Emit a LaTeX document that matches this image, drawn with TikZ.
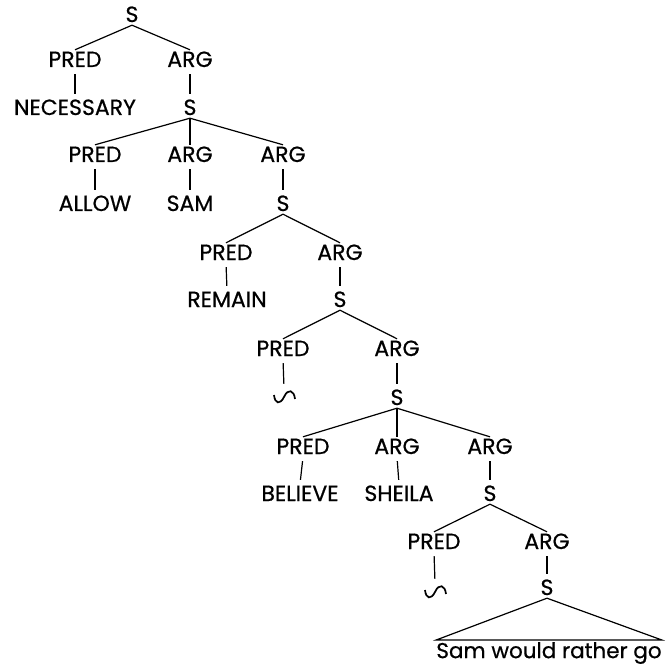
\documentclass[tikz,border=0pt]{standalone}
\usepackage{fontspec}
\newfontfamily\labfont{Poppins}[FakeBold=0.6]
\begin{document}
\begin{tikzpicture}[x=1pt,y=-1pt,
  lab/.style={font=\labfont\fontsize{22}{24}\selectfont, inner sep=3pt, text height=14pt, text depth=0pt},
  edge/.style={line width=1.2pt},
  vedge/.style={line width=1.2pt, shorten <=4pt, shorten >=4pt},
  wave/.style={inner sep=0pt, minimum width=22pt, minimum height=18pt}]
\useasboundingbox (0,0) rectangle (667,666);
\node[lab] (s1) at (132,15) {S};
\node[lab] (p1) at (75,60) {PRED};
\node[lab] (a1) at (190,60) {ARG};
\node[lab] (nec) at (75,108) {NECESSARY};
\node[lab] (s2) at (190,108) {S};
\node[lab] (p2) at (95,155) {PRED};
\node[lab] (a2) at (190,155) {ARG};
\node[lab] (a3) at (283,155) {ARG};
\node[lab] (allow) at (95,204) {ALLOW};
\node[lab] (sam) at (190,204) {SAM};
\node[lab] (s3) at (283,204) {S};
\node[lab] (p3) at (226,253) {PRED};
\node[lab] (a4) at (340,253) {ARG};
\node[lab] (remain) at (227,300) {REMAIN};
\node[lab] (s4) at (340,300) {S};
\node[lab] (p4) at (283,349) {PRED};
\node[lab] (a5) at (397,349) {ARG};
\node[wave] (w1) at (284,397) {};
\node[lab] (s5) at (397,398) {S};
\node[lab] (p5) at (303,447) {PRED};
\node[lab] (a6) at (397,447) {ARG};
\node[lab] (a7) at (490,447) {ARG};
\node[lab] (believe) at (300,494) {BELIEVE};
\node[lab] (sheila) at (399,494) {SHEILA};
\node[lab] (s6) at (490,494) {S};
\node[lab] (p6) at (434,542) {PRED};
\node[lab] (a8) at (547,542) {ARG};
\node[wave] (w2) at (435,592) {};
\node[lab] (s7) at (547,588) {S};
\node[font=\labfont\fontsize{21.5}{23}\selectfont, inner xsep=0pt, inner ysep=2pt, anchor=north] (txt) at (549,640) {Sam would rather go};

\draw[edge] (s1.south) -- (p1.north);
\draw[edge] (s1.south) -- (a1.north);
\draw[vedge] (p1.south) -- (nec.north);
\draw[vedge] (a1.south) -- (s2.north);
\draw[edge] (s2.south) -- (p2.north);
\draw[edge] (s2.south) -- (a2.north);
\draw[edge] (s2.south) -- (a3.north);
\draw[vedge] (p2.south) -- (allow.north);
\draw[vedge] (a2.south) -- (sam.north);
\draw[vedge] (a3.south) -- (s3.north);
\draw[edge] (s3.south) -- (p3.north);
\draw[edge] (s3.south) -- (a4.north);
\draw[vedge] (p3.south) -- (remain.north);
\draw[vedge] (a4.south) -- (s4.north);
\draw[edge] (s4.south) -- (p4.north);
\draw[edge] (s4.south) -- (a5.north);
\draw[vedge] (p4.south) -- (w1.north);
\draw[vedge] (a5.south) -- (s5.north);
\draw[edge] (s5.south) -- (p5.north);
\draw[edge] (s5.south) -- (a6.north);
\draw[edge] (s5.south) -- (a7.north);
\draw[vedge] (p5.south) -- (believe.north);
\draw[vedge] (a6.south) -- (sheila.north);
\draw[vedge] (a7.south) -- (s6.north);
\draw[edge] (s6.south) -- (p6.north);
\draw[edge] (s6.south) -- (a8.north);
\draw[vedge] (p6.south) -- (w2.north);
\draw[vedge] (a8.south) -- (s7.north);
\draw[edge] (s7.south) -- (txt.north west) -- (txt.north east) -- cycle;

\foreach \w in {w1,w2}
  \draw[line width=1.7pt] ([shift={(-10,-2)}]\w.center) .. controls +(1,9) and +(-4,8) .. ([shift={(0,0)}]\w.center)
     .. controls +(4,-9) and +(-1,-9) .. ([shift={(11,2)}]\w.center);
\end{tikzpicture}
\end{document}
